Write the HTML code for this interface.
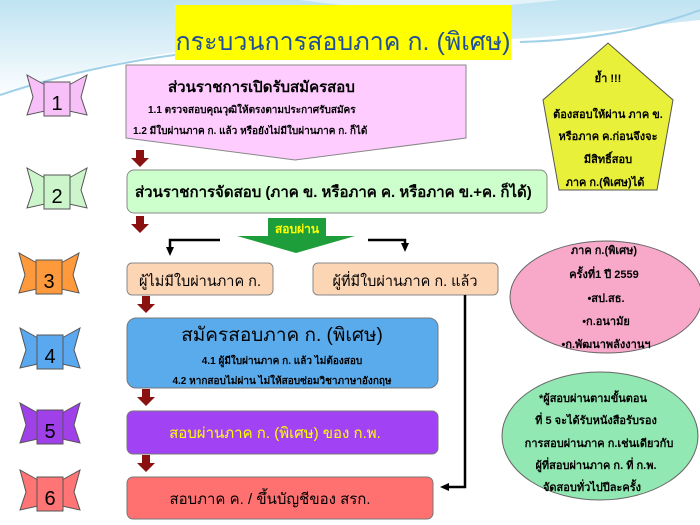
<!DOCTYPE html>
<html><head><meta charset="utf-8"><style>
html,body{margin:0;padding:0;background:#fff;}
svg{display:block;font-family:"Liberation Sans","Noto Sans CJK SC","WenQuanYi Zen Hei",sans-serif;}
</style></head><body>
<svg width="700" height="525" viewBox="0 0 700 525" xmlns="http://www.w3.org/2000/svg">
<defs>
<linearGradient id="sky" x1="0" y1="0" x2="0" y2="1"><stop offset="0" stop-color="#bfe3f2"/><stop offset="1" stop-color="#ffffff"/></linearGradient>
<marker id="ah" markerUnits="userSpaceOnUse" markerWidth="10" markerHeight="10" refX="3" refY="5" orient="auto"><path d="M0,1 L9,5 L0,9 Z" fill="#000"/></marker>
</defs>
<rect width="700" height="525" fill="#fff"/>
<path d="M0,0 H700 V20 C600,30 520,45 400,40 C250,35 100,55 0,100 Z" fill="url(#sky)"/>
<path d="M0,95 C120,55 250,40 400,45" stroke="#9fd0e8" stroke-width="2" fill="none"/>
<path d="M520,42 C600,40 660,25 700,10" stroke="#9fd0e8" stroke-width="2" fill="none"/>
<path d="M300,0 C380,10 420,15 560,0 Z" fill="#e4f3fa"/>

<rect x="175" y="5" width="336" height="55" fill="#ffff00"/>
<text x="343" y="50" font-size="25" fill="#1f4e9a" text-anchor="middle">กระบวนการสอบภาค ก. (พิเศษ)</text>

<polygon points="126,65 466,65 466,138 295,160 126,138" fill="#ffccff" stroke="#888" stroke-width="1"/>
<text x="168" y="92" font-size="15" font-weight="bold" fill="#000">ส่วนราชการเปิดรับสมัครสอบ</text>
<text x="148" y="113" font-size="10" font-weight="bold" fill="#000">1.1 ตรวจสอบคุณวุฒิให้ตรงตามประกาศรับสมัคร</text>
<text x="133" y="134" font-size="10" font-weight="bold" fill="#000">1.2 มีใบผ่านภาค ก. แล้ว หรือยังไม่มีใบผ่านภาค ก. ก็ได้</text>

<g fill="#8b1010">
<path d="M136,150 h8 v8 h5 l-9,9 l-9,-9 h5 z"/>
<path d="M136,216 h8 v8 h5 l-9,9 l-9,-9 h5 z"/>
<path d="M142,296 h8 v8 h5 l-9,9 l-9,-9 h5 z"/>
<path d="M142,389 h8 v8 h5 l-9,9 l-9,-9 h5 z"/>
<path d="M142,455 h8 v8 h5 l-9,9 l-9,-9 h5 z"/>
</g>

<rect x="127" y="170" width="420" height="43" rx="7" fill="#ccffcc" stroke="#888"/>
<text x="135" y="197" font-size="15" font-weight="bold" fill="#000">ส่วนราชการจัดสอบ (ภาค ข. หรือภาค ค. หรือภาค ข.+ค. ก็ได้)</text>

<polygon points="608,43 673,100 657,190 559,190 543,100" fill="#e8f03a" stroke="#555" stroke-width="1"/>
<g font-size="11" font-weight="bold" fill="#000" text-anchor="middle">
<text x="608" y="82">ย้ำ !!!</text>
<text x="608" y="118">ต้องสอบให้ผ่าน ภาค ข.</text>
<text x="608" y="140">หรือภาค ค.ก่อนจึงจะ</text>
<text x="608" y="163">มีสิทธิ์สอบ</text>
<text x="605" y="186">ภาค ก.(พิเศษ)ได้</text>
</g>

<polygon points="237,236 355,236 296,253" fill="#1e9e3a"/>
<rect x="268" y="218" width="58" height="20" fill="#1e9e3a"/>
<text x="297" y="233" font-size="12" font-weight="bold" fill="#ffff00" text-anchor="middle">สอบผ่าน</text>
<path d="M220,240 H170 V250" stroke="#000" stroke-width="2.5" fill="none" marker-end="url(#ah)"/>
<path d="M368,240 H405 V246" stroke="#000" stroke-width="2.5" fill="none" marker-end="url(#ah)"/>

<rect x="127" y="263" width="146" height="32" rx="5" fill="#fcd5b5" stroke="#888"/>
<text x="200" y="286" font-size="14.5" fill="#000" text-anchor="middle">ผู้ไม่มีใบผ่านภาค ก.</text>
<rect x="313" y="263" width="185" height="32" rx="5" fill="#fcd5b5" stroke="#888"/>
<text x="405" y="286" font-size="14.5" fill="#000" text-anchor="middle">ผู้ที่มีใบผ่านภาค ก. แล้ว</text>

<ellipse cx="606" cy="297" rx="96" ry="56" fill="#f8a8c8" stroke="#666"/>
<g font-size="11" font-weight="bold" fill="#000" text-anchor="middle">
<text x="604" y="254">ภาค ก.(พิเศษ)</text>
<text x="604" y="278">ครั้งที่1 ปี 2559</text>
<text x="606" y="302">•สป.สธ.</text>
<text x="606" y="325">•ก.อนามัย</text>
<text x="606" y="348">•ก.พัฒนาพลังงานฯ</text>
</g>

<rect x="127" y="318" width="311" height="70" rx="9" fill="#5aabec" stroke="#777"/>
<text x="282" y="341" font-size="19" fill="#000" text-anchor="middle">สมัครสอบภาค ก. (พิเศษ)</text>
<text x="282" y="364" font-size="10" font-weight="bold" fill="#000" text-anchor="middle">4.1 ผู้มีใบผ่านภาค ก. แล้ว ไม่ต้องสอบ</text>
<text x="282" y="384" font-size="10" font-weight="bold" fill="#000" text-anchor="middle">4.2 หากสอบไม่ผ่าน ไม่ให้สอบซ่อมวิชาภาษาอังกฤษ</text>

<rect x="127" y="411" width="311" height="43" rx="6" fill="#a143f5" stroke="#777"/>
<text x="275" y="438" font-size="15" fill="#ffff00" text-anchor="middle">สอบผ่านภาค ก. (พิเศษ) ของ ก.พ.</text>

<rect x="127" y="477" width="306" height="42" rx="6" fill="#ff7171" stroke="#777"/>
<text x="270" y="504" font-size="15" fill="#000" text-anchor="middle">สอบภาค ค.  / ขึ้นบัญชีของ สรก.</text>

<path d="M465,295 V487 H446" stroke="#000" stroke-width="2.5" fill="none" marker-end="url(#ah)"/>

<ellipse cx="600" cy="436" rx="98" ry="64" fill="#92e8b2" stroke="#666"/>
<g font-size="11" font-weight="bold" fill="#000" text-anchor="middle">
<text x="593" y="402">*ผู้สอบผ่านตามขั้นตอน</text>
<text x="596" y="424">ที่ 5 จะได้รับหนังสือรับรอง</text>
<text x="599" y="447">การสอบผ่านภาค ก.เช่นเดียวกับ</text>
<text x="596" y="469">ผู้ที่สอบผ่านภาค ก. ที่ ก.พ.</text>
<text x="592" y="491">จัดสอบทั่วไปปีละครั้ง</text>
</g>

<g stroke="#555" stroke-width="1" font-size="20" text-anchor="middle">
<g transform="translate(57,97)" fill="#f8c0f8"><polygon points="-12,-12 -30,-22 -24,0 -30,18 -12,14"/><polygon points="12,-12 30,-22 24,0 30,18 12,14"/><rect x="-13" y="-15" width="26" height="34"/><text y="13" fill="#000" stroke="none">1</text></g>
<g transform="translate(57,190)" fill="#ccf5cc"><polygon points="-12,-12 -30,-22 -24,0 -30,18 -12,14"/><polygon points="12,-12 30,-22 24,0 30,18 12,14"/><rect x="-13" y="-15" width="26" height="34"/><text y="13" fill="#000" stroke="none">2</text></g>
<g transform="translate(49,275)" fill="#ff9a3c"><polygon points="-12,-12 -30,-22 -24,0 -30,18 -12,14"/><polygon points="12,-12 30,-22 24,0 30,18 12,14"/><rect x="-13" y="-15" width="26" height="34"/><text y="13" fill="#000" stroke="none">3</text></g>
<g transform="translate(50,350)" fill="#5aa8f0"><polygon points="-12,-12 -30,-22 -24,0 -30,18 -12,14"/><polygon points="12,-12 30,-22 24,0 30,18 12,14"/><rect x="-13" y="-15" width="26" height="34"/><text y="13" fill="#000" stroke="none">4</text></g>
<g transform="translate(50,425)" fill="#a040e8"><polygon points="-12,-12 -30,-22 -24,0 -30,18 -12,14"/><polygon points="12,-12 30,-22 24,0 30,18 12,14"/><rect x="-13" y="-15" width="26" height="34"/><text y="13" fill="#000" stroke="none">5</text></g>
<g transform="translate(50,492)" fill="#ff7474"><polygon points="-12,-12 -30,-22 -24,0 -30,18 -12,14"/><polygon points="12,-12 30,-22 24,0 30,18 12,14"/><rect x="-13" y="-15" width="26" height="34"/><text y="13" fill="#000" stroke="none">6</text></g>
</g>
</svg>
</body></html>
